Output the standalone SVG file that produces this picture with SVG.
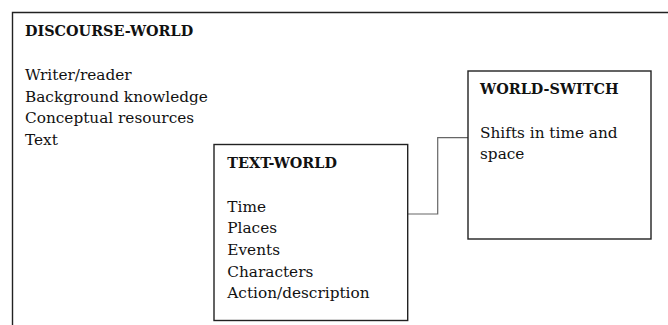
<svg xmlns="http://www.w3.org/2000/svg" width="668" height="325" viewBox="0 0 668 325">
<style>
.box{fill:#fff;stroke:#222;stroke-width:1.4}
.t{font-family:"DejaVu Serif","Liberation Serif",serif;font-size:15.3px;fill:#111}
.h{font-family:"DejaVu Serif","Liberation Serif",serif;font-size:14.4px;font-weight:bold;fill:#111}
.conn{fill:none;stroke:#666;stroke-width:1.2}
</style>
<rect width="668" height="325" fill="#fff"/>
<g id="discourse-world">
<path d="M12.5,340 V12.5 H680" class="box" fill="none"/>
<text class="h" x="25" y="36">DISCOURSE-WORLD</text>
<text class="t" x="25" y="80">Writer/reader</text>
<text class="t" x="25" y="101.7">Background knowledge</text>
<text class="t" x="25" y="123.3">Conceptual resources</text>
<text class="t" x="25" y="145">Text</text>
</g>
<g id="connectors">
<path class="conn" d="M408,214 H437.7 V137.7 H468"/>
</g>
<g id="text-world">
<rect class="box" x="214" y="144.5" width="193.7" height="176"/>
<text class="h" x="227.3" y="167.7">TEXT-WORLD</text>
<text class="t" x="227.3" y="211.7">Time</text>
<text class="t" x="227.3" y="233.3">Places</text>
<text class="t" x="227.3" y="255">Events</text>
<text class="t" x="227.3" y="276.7">Characters</text>
<text class="t" x="227.3" y="298.3">Action/description</text>
</g>
<g id="world-switch">
<rect class="box" x="468" y="71" width="183" height="168"/>
<text class="h" x="480" y="94.3">WORLD-SWITCH</text>
<text class="t" x="480" y="138.3">Shifts in time and</text>
<text class="t" x="480" y="159">space</text>
</g>
</svg>
